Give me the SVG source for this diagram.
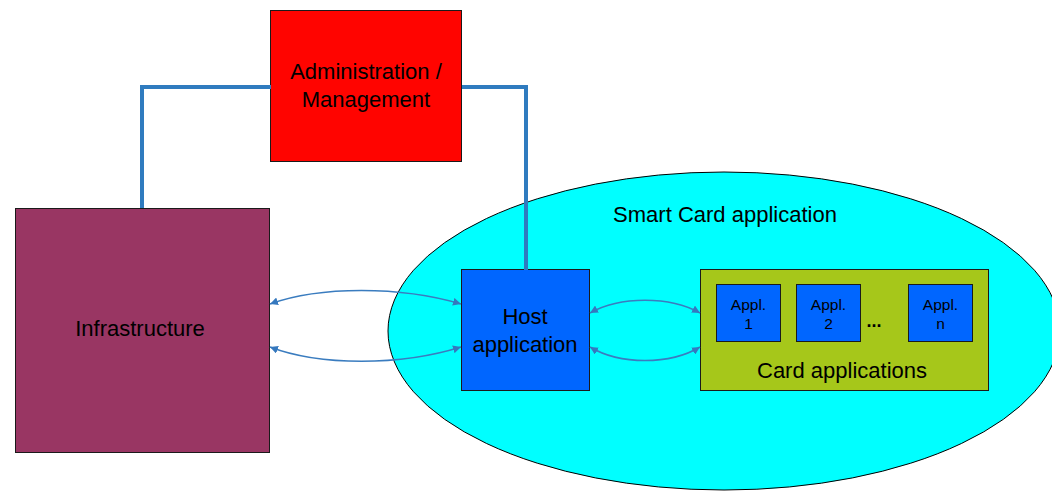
<svg xmlns="http://www.w3.org/2000/svg" width="1052" height="492" viewBox="0 0 1052 492">
<style>
text{font-family:"Liberation Sans",Arial,sans-serif;fill:#000;text-anchor:middle}
.big{font-size:22px}
.small{font-size:15.5px}
.box{stroke:#1a1a1a;stroke-width:1}
.thick{fill:none;stroke:#2f7bbf;stroke-width:4}
.thin{fill:none;stroke:#3a7cbf;stroke-width:1.5}
</style>
<defs>
<marker id="ah" viewBox="0 0 10 10" refX="10" refY="5" markerWidth="8" markerHeight="8" markerUnits="userSpaceOnUse" orient="auto-start-reverse">
<path d="M0,0 L10,5 L0,10 z" fill="#3578be"/>
</marker>
</defs>
<rect width="1052" height="492" fill="#fff"/>
<g id="smartcard">
<ellipse cx="724" cy="331" rx="336" ry="159" fill="#00ffff" stroke="#000" stroke-width="1"/>
<text class="big" x="725" y="222">Smart Card application</text>
</g>
<g id="admin">
<rect class="box" x="270.5" y="10.5" width="191" height="151" fill="#ff0400"/>
<text class="big" x="366" y="79">Administration /</text>
<text class="big" x="366" y="107">Management</text>
</g>
<g id="infrastructure">
<rect class="box" x="15.5" y="208.5" width="254" height="244" fill="#993663"/>
<text class="big" x="140" y="336">Infrastructure</text>
</g>
<g id="host">
<rect class="box" x="461.5" y="269.5" width="128" height="121" fill="#0066ff"/>
<text class="big" x="525" y="324">Host</text>
<text class="big" x="525" y="352">application</text>
</g>
<g id="cardapps">
<rect class="box" x="700.5" y="269.5" width="288" height="121" fill="#a6c71a"/>
<text class="big" x="842" y="378">Card applications</text>
<text x="874" y="327" style="font-size:18px;font-weight:bold">...</text>
</g>
<g id="appl1">
<rect class="box" x="716.5" y="284.5" width="64" height="57" fill="#0066ff"/>
<text class="small" x="748.5" y="310">Appl.</text>
<text class="small" x="748.5" y="329">1</text>
</g>
<g id="appl2">
<rect class="box" x="796.5" y="284.5" width="64" height="57" fill="#0066ff"/>
<text class="small" x="828.5" y="310">Appl.</text>
<text class="small" x="828.5" y="329">2</text>
</g>
<g id="appln">
<rect class="box" x="908.5" y="284.5" width="64" height="57" fill="#0066ff"/>
<text class="small" x="940.5" y="310">Appl.</text>
<text class="small" x="940.5" y="329">n</text>
</g>
<g id="connectors">
<polyline class="thick" points="142,208 142,87 271,87"/>
<polyline class="thick" points="462,87 526,87 526,270"/>
<path class="thin" d="M270,304 C320,286 400,286 461,304" marker-start="url(#ah)" marker-end="url(#ah)"/>
<path class="thin" d="M270,347 C320,366 400,366 461,347" marker-start="url(#ah)" marker-end="url(#ah)"/>
<path class="thin" d="M590,313 C620,296 670,296 700,313" marker-start="url(#ah)" marker-end="url(#ah)"/>
<path class="thin" d="M590,347 C620,365 670,365 700,347" marker-start="url(#ah)" marker-end="url(#ah)"/>
</g>
</svg>
